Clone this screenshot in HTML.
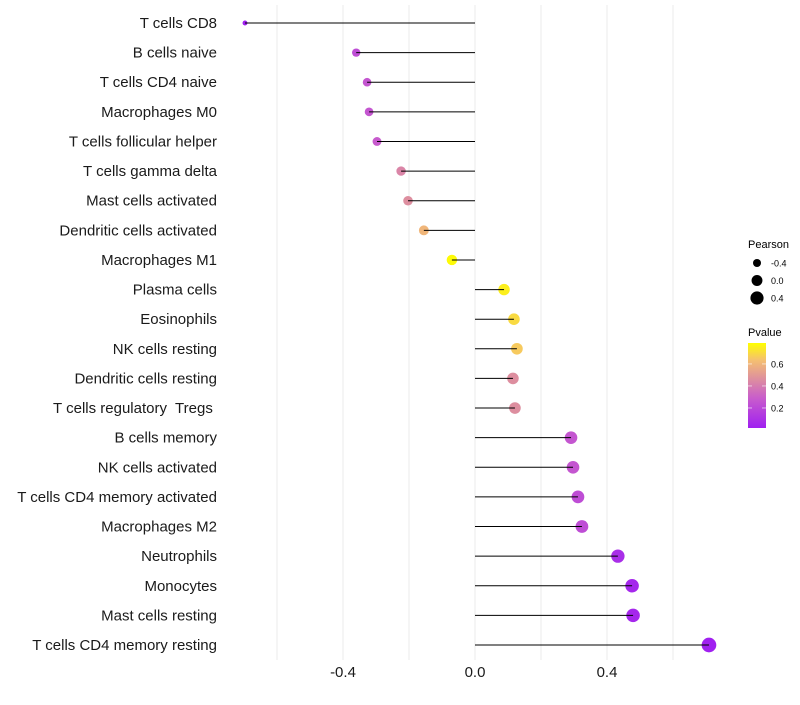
<!DOCTYPE html>
<html><head><meta charset="utf-8"><style>body{margin:0;background:#fff}svg{font-family:"Liberation Sans",sans-serif}text{white-space:pre}</style></head>
<body>
<svg id="chart" width="800" height="700" xmlns="http://www.w3.org/2000/svg">
<g id="grid"></g>
<g id="marks"></g>
<g id="ylab"></g>
<g id="xlab"></g>
<g>
<text x="748" y="248" font-size="11">Pearson</text>
<g id="sizeLeg"></g>
</g>
<g>
<text x="748" y="336" font-size="11">Pvalue</text>
<defs><linearGradient id="pg" x1="0" y1="1" x2="0" y2="0">
<stop offset="0" stop-color="#a020f0"/><stop offset="0.35" stop-color="#c85ccc"/><stop offset="0.6" stop-color="#e0949a"/><stop offset="0.8" stop-color="#f5c070"/><stop offset="1" stop-color="#ffff00"/></linearGradient></defs>
<rect x="748" y="343" width="18" height="85" fill="url(#pg)"/>
<g id="cbLeg"></g>
</g>
</svg>
<script>
const categories=["T cells CD8","B cells naive","T cells CD4 naive","Macrophages M0","T cells follicular helper","T cells gamma delta","Mast cells activated","Dendritic cells activated","Macrophages M1","Plasma cells","Eosinophils","NK cells resting","Dendritic cells resting","T cells regulatory  Tregs ","B cells memory","NK cells activated","T cells CD4 memory activated","Macrophages M2","Neutrophils","Monocytes","Mast cells resting","T cells CD4 memory resting"];
const pearson=[-0.697,-0.36,-0.327,-0.321,-0.297,-0.224,-0.203,-0.155,-0.07,0.088,0.118,0.127,0.115,0.121,0.291,0.297,0.312,0.324,0.433,0.476,0.479,0.709];
const pvalue=[0.02,0.22,0.26,0.26,0.28,0.43,0.46,0.6,0.78,0.75,0.7,0.66,0.46,0.46,0.26,0.26,0.22,0.22,0.08,0.05,0.05,0.02];
const xTicks=[-0.4,0.0,0.4];
const xGrid=[-0.6,-0.4,-0.2,0,0.2,0.4,0.6];
const sizeBreaks=[-0.4,0.0,0.4];
const pBreaks=[0.2,0.4,0.6];
const NS="http://www.w3.org/2000/svg";
const X=v=>475+v*330, Y=i=>23+i*(622/21);
const R=v=>Math.sqrt(Math.max(2,6+34*(v+0.697)));
const PY=p=>428-(p-0.018)/(0.79-0.018)*85;
function mk(t,a,parent){const e=document.createElementNS(NS,t);for(const k in a)e.setAttribute(k,a[k]);document.getElementById(parent).appendChild(e);return e;}
const stops=[[0,[160,32,240]],[0.35,[200,92,204]],[0.6,[224,148,154]],[0.8,[245,192,112]],[1,[255,255,0]]];
function col(p){let t=(p-0.018)/(0.79-0.018);t=Math.max(0,Math.min(1,t));for(let i=1;i<stops.length;i++){if(t<=stops[i][0]){const a=stops[i-1],b=stops[i],f=(t-a[0])/(b[0]-a[0]);return `rgb(${a[1].map((c,j)=>Math.round(c+(b[1][j]-c)*f)).join(',')})`;}}return 'rgb(255,255,0)';}
xGrid.forEach(v=>{const l=mk('line',{x1:X(v),x2:X(v),y1:5,y2:660,stroke:'#ebebeb','stroke-width':1},'grid');});
categories.forEach((c,i)=>{
 const y=Y(i);
 const dot=mk('circle',{cx:X(pearson[i]),cy:y,r:R(pearson[i]),fill:col(pvalue[i])},'marks');
 
 const seg=mk('line',{x1:X(0),x2:X(pearson[i]),y1:y,y2:y,stroke:'#000','stroke-width':1},'marks');
 
 const t=mk('text',{x:217,y:y+5,'text-anchor':'end','font-size':15,fill:'#1a1a1a'},'ylab');t.textContent=c;
 
});
xTicks.forEach(v=>{const t=mk('text',{x:X(v),y:677,'text-anchor':'middle','font-size':15,fill:'#1a1a1a'},'xlab');t.textContent=v.toFixed(1);});
sizeBreaks.forEach((v,i)=>{const y=263+i*17.5;const c=mk('circle',{cx:757,cy:y,r:R(v),fill:'#000'},'sizeLeg');const t=mk('text',{x:771,y:y+3.5,'font-size':9},'sizeLeg');t.textContent=v.toFixed(1);});
pBreaks.forEach(p=>{const y=PY(p);mk('line',{x1:748,x2:752,y1:y,y2:y,stroke:'#fff','stroke-width':1,opacity:0.6},'cbLeg');mk('line',{x1:762,x2:766,y1:y,y2:y,stroke:'#fff','stroke-width':1,opacity:0.6},'cbLeg');const t=mk('text',{x:771,y:y+3.5,'font-size':9},'cbLeg');t.textContent=p.toFixed(1);});
</script>
</body></html>
